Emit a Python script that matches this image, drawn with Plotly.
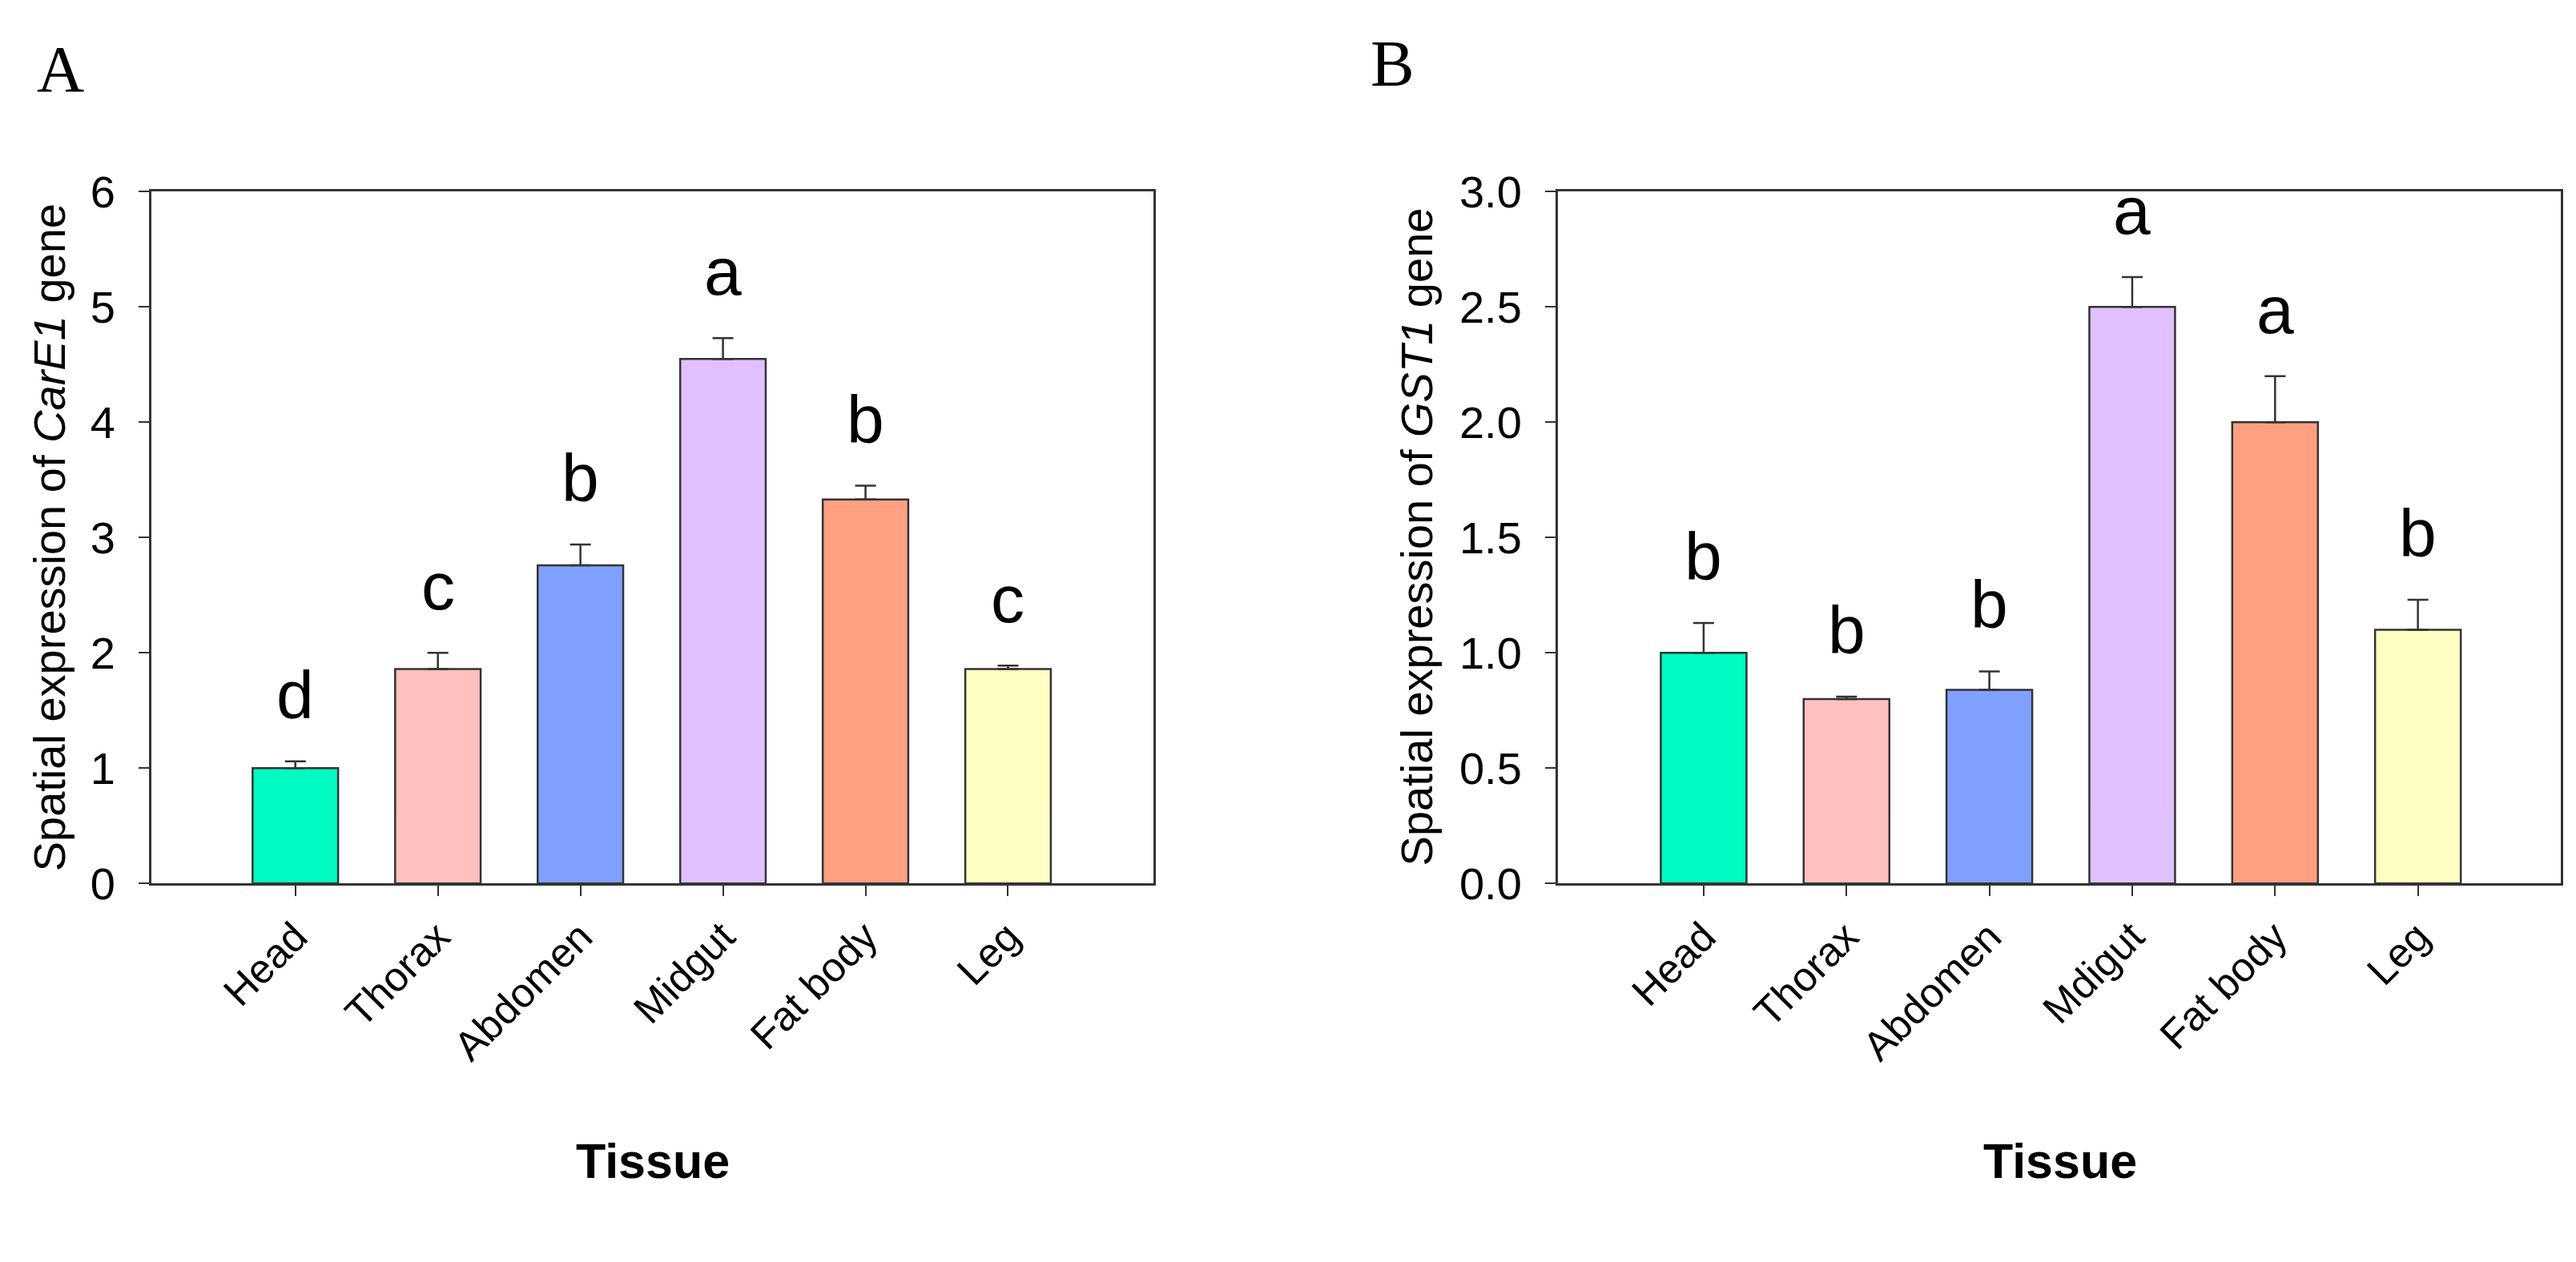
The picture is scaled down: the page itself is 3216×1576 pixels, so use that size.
import plotly.graph_objects as go

# ---------------- data ----------------
tissues_a = ["Head", "Thorax", "Abdomen", "Midgut", "Fat body", "Leg"]
carE1_mean = [1.00, 1.86, 2.76, 4.55, 3.33, 1.86]
carE1_err = [0.06, 0.14, 0.18, 0.18, 0.12, 0.03]
carE1_letters = ["d", "c", "b", "a", "b", "c"]

tissues_b = ["Head", "Thorax", "Abdomen", "Mdigut", "Fat body", "Leg"]
gst1_mean = [1.00, 0.80, 0.84, 2.50, 2.00, 1.10]
gst1_err = [0.13, 0.01, 0.08, 0.13, 0.20, 0.13]
gst1_letters = ["b", "b", "b", "a", "a", "b"]

bar_colors = ["#00FCC0", "#FFC0C0", "#80A0FF", "#E0C0FF", "#FFA080", "#FFFFC4"]

W, H = 3216, 1576
FONT = "Arial, Liberation Sans, sans-serif"
SERIF = "Times New Roman, Liberation Serif, serif"
LINE = "#333333"

def px_x(p):
    return p / W

def px_y(p):
    return 1 - p / H

fig = go.Figure()

for xa, ya, cats, mean, err in [("x", "y", tissues_a, carE1_mean, carE1_err),
                                ("x2", "y2", tissues_b, gst1_mean, gst1_err)]:
    fig.add_trace(go.Bar(
        x=cats, y=mean, xaxis=xa, yaxis=ya, width=0.6,
        marker=dict(color=bar_colors, line=dict(color=LINE, width=2.5)),
        error_y=dict(type="data", symmetric=False, array=err,
                     arrayminus=[0] * len(err), color=LINE, thickness=2.5, width=13),
        showlegend=False, hoverinfo="skip",
    ))

annotations = []
for xa, ya, cats, mean, err, letters in [("x", "y", tissues_a, carE1_mean, carE1_err, carE1_letters),
                                         ("x2", "y2", tissues_b, gst1_mean, gst1_err, gst1_letters)]:
    for c, m, e, l in zip(cats, mean, err, letters):
        annotations.append(dict(x=c, y=m + e, xref=xa, yref=ya, text=l, showarrow=False,
                                yanchor="bottom", yshift=34,
                                font=dict(family=FONT, size=84, color="black")))

# axis titles
annotations += [
    dict(x=px_x(61), y=px_y(667), xref="paper", yref="paper", textangle=-90,
         text="Spatial expression of <i>CarE1</i> gene", showarrow=False,
         xanchor="center", yanchor="middle", font=dict(family=FONT, size=56, color="black")),
    dict(x=px_x(1768), y=px_y(666), xref="paper", yref="paper", textangle=-90,
         text="Spatial expression of <i>GST1</i> gene", showarrow=False,
         xanchor="center", yanchor="middle", font=dict(family=FONT, size=56, color="black")),
    dict(x=px_x(815), y=px_y(1478), xref="paper", yref="paper", text="<b>Tissue</b>",
         showarrow=False, xanchor="center", yanchor="middle",
         font=dict(family=FONT, size=61, color="black")),
    dict(x=px_x(2572), y=px_y(1478), xref="paper", yref="paper", text="<b>Tissue</b>",
         showarrow=False, xanchor="center", yanchor="middle",
         font=dict(family=FONT, size=61, color="black")),
    dict(x=px_x(75), y=px_y(58), xref="paper", yref="paper", text="A",
         showarrow=False, xanchor="center", yanchor="middle",
         font=dict(family=SERIF, size=82, color="black")),
    dict(x=px_x(1738), y=px_y(50), xref="paper", yref="paper", text="B",
         showarrow=False, xanchor="center", yanchor="middle",
         font=dict(family=SERIF, size=82, color="black")),
]

xcommon = dict(showline=True, linecolor=LINE, linewidth=3, mirror=True,
               ticks="outside", ticklen=13, tickwidth=2, tickcolor=LINE,
               tickangle=-45, tickfont=dict(family=FONT, size=51, color="black"),
               showgrid=False, zeroline=False)
ycommon = dict(showline=True, linecolor=LINE, linewidth=3, mirror=True,
               ticks="outside", ticklen=13, tickwidth=2, tickcolor=LINE,
               tickfont=dict(family=FONT, size=56, color="black"),
               showgrid=False, zeroline=False, ticklabelstandoff=18)

fig.update_layout(
    width=W, height=H,
    margin=dict(l=0, r=0, t=0, b=0),
    paper_bgcolor="white", plot_bgcolor="white",
    xaxis=dict(xcommon, domain=[px_x(189), px_x(1440)], range=[-1.01, 6.02], anchor="y"),
    yaxis=dict(ycommon, domain=[px_y(1117), px_y(217)], range=[0, 6], dtick=1, anchor="x"),
    xaxis2=dict(xcommon, domain=[px_x(1945), px_x(3197)], range=[-1.02, 6.0], anchor="y2"),
    yaxis2=dict(ycommon, domain=[px_y(1117), px_y(217)], range=[0, 3], dtick=0.5,
                tickformat=".1f", anchor="x2"),
    annotations=annotations,
    bargap=0.4,
)

fig.write_html("out.html", config={"displayModeBar": False},
               post_script="document.body.style.margin='0';")
